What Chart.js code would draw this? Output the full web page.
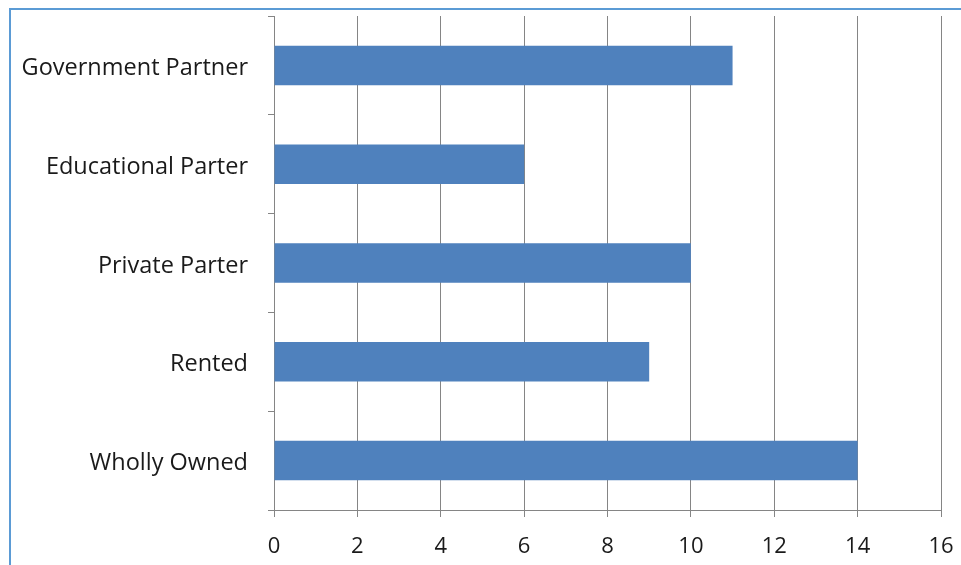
<!DOCTYPE html>
<html>
<head>
<meta charset="utf-8">
<script src="https://cdn.jsdelivr.net/npm/chart.js@4"></script>
<style>
  html, body { margin: 0; padding: 0; background: #fff; }
  #wrap { position: relative; width: 961px; height: 565px; }
  #frame {
    position: absolute; left: 9px; top: 8px; right: 0; bottom: 0;
    border-left: 2px solid #5b9bd5; border-top: 2px solid #5b9bd5;
    pointer-events: none;
  }
</style>
</head>
<body>
<div id="wrap">
  <canvas id="grafica" width="961" height="565"></canvas>
  <div id="frame"></div>
</div>
<script>
const categorias = ['Government Partner', 'Educational Parter', 'Private Parter', 'Rented', 'Wholly Owned'];
const valores = [11, 6, 10, 9, 14];
const ticksX = [0, 2, 4, 6, 8, 10, 12, 14, 16];

const gris = '#858585';

const ctx = document.getElementById('grafica').getContext('2d');
const chart = new Chart(ctx, {
  type: 'bar',
  data: {
    labels: categorias,
    datasets: [{
      data: valores,
      backgroundColor: '#4f81bd',
      barPercentage: 0.4,
      categoryPercentage: 1
    }]
  },
  options: {
    indexAxis: 'y',
    responsive: false,
    animation: false,
    layout: { padding: { top: 16, right: 20, left: 0, bottom: 0 } },
    plugins: { legend: { display: false }, tooltip: { enabled: false } },
    scales: {
      x: {
        min: ticksX[0],
        max: ticksX[ticksX.length - 1],
        afterBuildTicks: (scale) => { scale.ticks = ticksX.map(v => ({ value: v })); },
        afterFit: (scale) => {
          scale.height = 55;
          scale.paddingLeft = 0;
          scale.paddingRight = 0;
        },
        grid: { color: gris, lineWidth: 1, tickLength: 7 },
        border: { color: gris, width: 1 },
        ticks: { color: '#1a1a1a', font: { family: 'Open Sans', size: 22 }, padding: 17 }
      },
      y: {
        afterFit: (scale) => {
          scale.width = 274;
          scale.paddingTop = 0;
          scale.paddingBottom = 0;
        },
        grid: { drawOnChartArea: false, color: gris, tickLength: 6, offset: true },
        border: { color: gris, width: 1 },
        ticks: { color: '#1a1a1a', font: { family: 'Open Sans', size: 23.5 }, padding: 20, labelOffset: 3 }
      }
    }
  }
});
</script>
</body>
</html>
